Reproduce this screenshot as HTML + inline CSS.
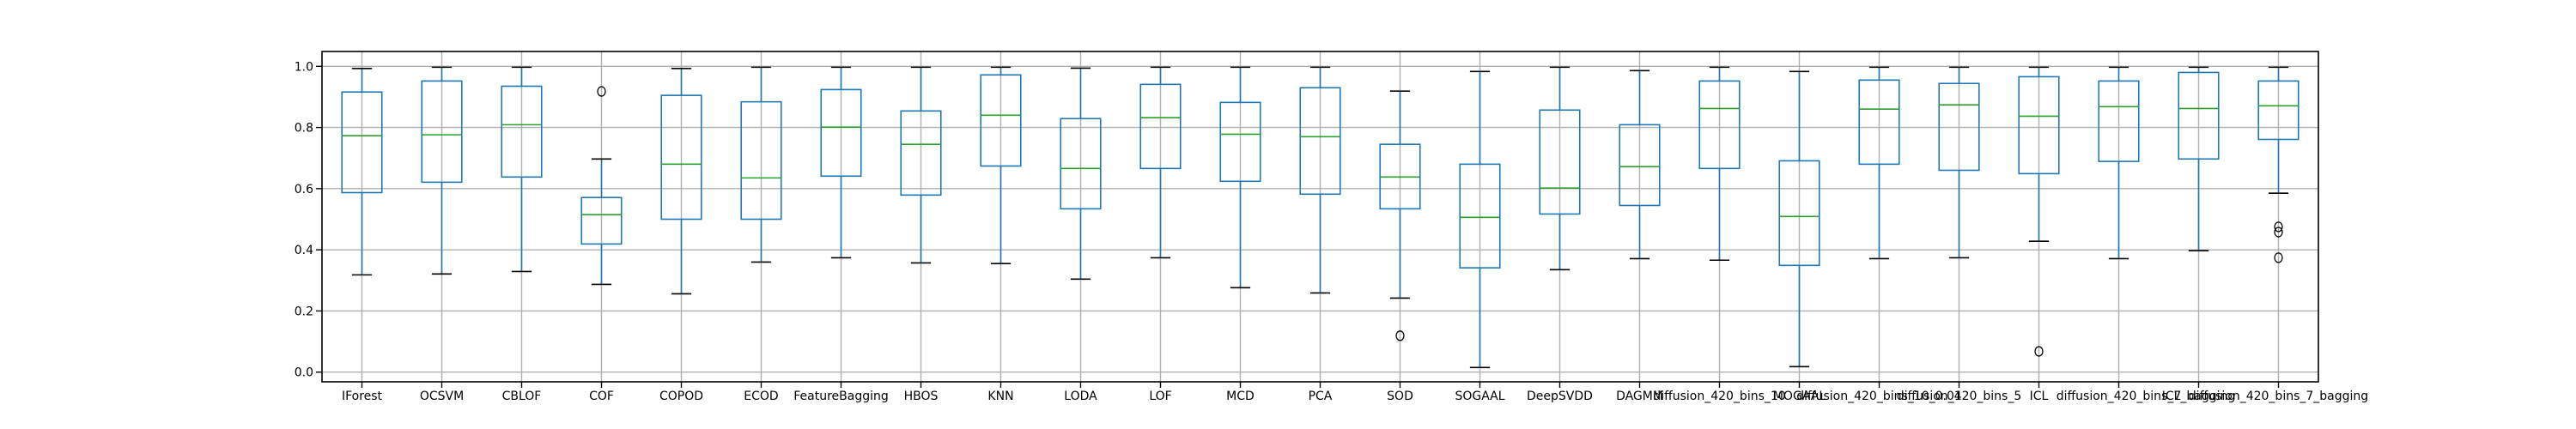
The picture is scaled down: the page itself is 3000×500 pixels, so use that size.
<!DOCTYPE html>
<html><head><meta charset="utf-8"><style>
html,body{margin:0;padding:0;background:#fff;}
svg{display:block;font-family:"DejaVu Sans","Liberation Sans",sans-serif;}
</style></head><body>
<svg id="chart" width="3000" height="500" xmlns="http://www.w3.org/2000/svg">
<rect x="0" y="0" width="3000" height="500" fill="#fff"/>
<g id="grid"></g>
<g id="boxes"></g>
<g id="axes"></g>
</svg>
<script>
const categories = ["IForest","OCSVM","CBLOF","COF","COPOD","ECOD","FeatureBagging","HBOS","KNN","LODA","LOF","MCD","PCA","SOD","SOGAAL","DeepSVDD","DAGMM","diffusion_420_bins_10","MOGAAL","diffusion_420_bins_10_0.01","diffusion_420_bins_5","ICL","diffusion_420_bins_7","ICL_bagging","diffusion_420_bins_7_bagging"];
const whiskerHigh = [0.993,0.997,0.997,0.697,0.993,0.997,0.997,0.997,0.997,0.994,0.997,0.997,0.997,0.919,0.983,0.997,0.986,0.997,0.983,0.997,0.997,0.997,0.997,0.997,0.997];
const q3 = [0.916,0.952,0.935,0.571,0.905,0.884,0.924,0.854,0.972,0.829,0.941,0.882,0.930,0.745,0.680,0.857,0.809,0.952,0.691,0.955,0.944,0.966,0.952,0.980,0.952];
const medians = [0.773,0.776,0.809,0.515,0.680,0.635,0.801,0.745,0.840,0.666,0.832,0.778,0.770,0.638,0.506,0.602,0.672,0.862,0.509,0.860,0.874,0.837,0.868,0.862,0.871];
const q1 = [0.587,0.621,0.638,0.419,0.500,0.500,0.641,0.579,0.674,0.534,0.666,0.624,0.582,0.534,0.341,0.517,0.545,0.666,0.349,0.680,0.660,0.649,0.689,0.697,0.761];
const whiskerLow = [0.318,0.321,0.329,0.287,0.256,0.360,0.374,0.357,0.355,0.304,0.374,0.276,0.259,0.242,0.015,0.335,0.371,0.366,0.018,0.371,0.374,0.428,0.371,0.397,0.585];
const outliers = [[],[],[],[0.918],[],[],[],[],[],[],[],[],[],[0.119],[],[],[],[],[],[],[],[0.068],[],[],[0.475,0.458,0.374]];
const yTicks = [0.0,0.2,0.4,0.6,0.8,1.0];
const yTickLabels = ["0.0","0.2","0.4","0.6","0.8","1.0"];

const L=375,R=2700,T=60,B=445;
const step=(R-L)/categories.length;
const xPos=i=>L+step*(i+0.5);
const yPos=v=>433.7-(433.7-77.3)*v;
const NS="http://www.w3.org/2000/svg";
function mk(tag,attrs,parent){const e=document.createElementNS(NS,tag);for(const k in attrs)e.setAttribute(k,attrs[k]);parent.appendChild(e);return e;}
const grid=document.getElementById('grid'),boxes=document.getElementById('boxes'),axes=document.getElementById('axes');

yTicks.forEach((v,i)=>{
  const y=yPos(v);
  const g=mk('line',{x1:L,x2:R,y1:y,y2:y,stroke:'#b0b0b0','stroke-width':1.4},grid);
  
  
  const t=mk('line',{x1:L-7,x2:L,y1:y,y2:y,stroke:'#000','stroke-width':1.4},axes);
  
  
  const lb=mk('text',{x:L-10,y:y+5,'text-anchor':'end','font-size':14,fill:'#000'},axes);
  lb.textContent=yTickLabels[i];
  
  
});
categories.forEach((c,i)=>{
  const x=xPos(i);
  const g=mk('line',{x1:x,x2:x,y1:T,y2:B,stroke:'#b0b0b0','stroke-width':1.4},grid);
  
  
  const grp=mk('g',{},boxes);
  
  
  const hw=step*0.25, cw=step*0.125;
  const blue='#1f77b4';
  mk('line',{x1:x,x2:x,y1:yPos(q3[i]),y2:yPos(whiskerHigh[i]),stroke:blue,'stroke-width':1.6},grp);
  mk('line',{x1:x,x2:x,y1:yPos(q1[i]),y2:yPos(whiskerLow[i]),stroke:blue,'stroke-width':1.6},grp);
  mk('line',{x1:x-cw,x2:x+cw,y1:yPos(whiskerHigh[i]),y2:yPos(whiskerHigh[i]),stroke:'#000','stroke-width':1.6},grp);
  mk('line',{x1:x-cw,x2:x+cw,y1:yPos(whiskerLow[i]),y2:yPos(whiskerLow[i]),stroke:'#000','stroke-width':1.6},grp);
  mk('rect',{x:x-hw,y:yPos(q3[i]),width:2*hw,height:yPos(q1[i])-yPos(q3[i]),fill:'none',stroke:blue,'stroke-width':1.6},grp);
  mk('line',{x1:x-hw,x2:x+hw,y1:yPos(medians[i]),y2:yPos(medians[i]),stroke:'#2ca02c','stroke-width':1.6},grp);
  outliers[i].forEach(v=>{
    const o=mk('ellipse',{cx:x,cy:yPos(v),rx:4.5,ry:5.5,fill:'none',stroke:'#000','stroke-width':1.3},grp);
    
    
  });
  const t=mk('line',{x1:x,x2:x,y1:B,y2:B+7,stroke:'#000','stroke-width':1.4},axes);
  
  
  const lb=mk('text',{x:x,y:B+21,'text-anchor':'middle','font-size':14,fill:'#000'},axes);
  lb.textContent=c;
  
  
});
const frame=mk('rect',{x:L,y:T,width:R-L,height:B-T,fill:'none',stroke:'#000','stroke-width':1.6},axes);


</script>
</body></html>
